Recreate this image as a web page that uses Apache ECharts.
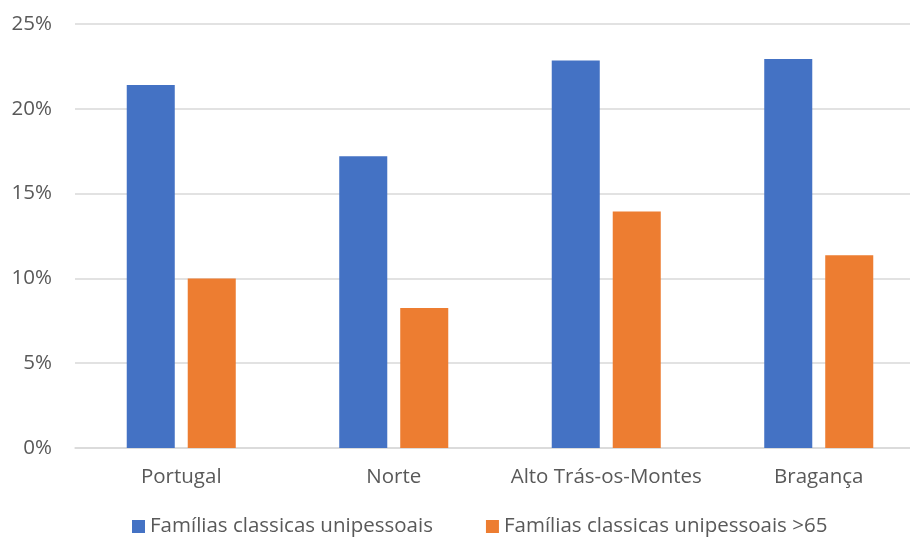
<!DOCTYPE html>
<html>
<head>
<meta charset="utf-8">
<script src="https://cdn.jsdelivr.net/npm/echarts@6/dist/echarts.min.js"></script>
<style>
  html, body { margin: 0; padding: 0; background: #fff; }
  #chart { width: 910px; height: 542px; }
</style>
</head>
<body>
<div id="chart"></div>
<script>
// categorias e valores (%)
var categories = ['Portugal', 'Norte', 'Alto Trás-os-Montes', 'Bragança'];
var unipessoais = [21.4, 17.2, 22.85, 22.93];
var unipessoais65 = [10.0, 8.25, 13.95, 11.36];
var seriesNames = ['Famílias classicas unipessoais', 'Famílias classicas unipessoais >65'];

var chart = echarts.init(document.getElementById('chart'));
var font = '"Open Sans", "Noto Sans", sans-serif';

chart.setOption({
  animation: false,
  textStyle: { fontFamily: font },
  // o gráfico original está cortado à direita
  grid: { left: 75, width: 850, top: 24, bottom: 94, containLabel: false, outerBoundsMode: 'none' },
  legend: {
    bottom: 0,
    left: 127,
    itemWidth: 13,
    itemHeight: 13,
    itemGap: 53,
    icon: 'rect',
    textStyle: { color: '#595959', fontSize: 20.5, fontFamily: font },
    data: seriesNames
  },
  xAxis: {
    type: 'category',
    data: categories,
    axisTick: { show: false },
    axisLine: { lineStyle: { color: '#d9d9d9', width: 1.5 } },
    axisLabel: { color: '#595959', fontSize: 20.5, margin: 19, interval: 0, fontFamily: font }
  },
  yAxis: {
    type: 'value',
    min: 0,
    max: 25,
    interval: 5,
    axisLine: { show: false },
    axisTick: { show: false },
    splitLine: { lineStyle: { color: '#d9d9d9', width: 1.5 } },
    axisLabel: {
      color: '#595959', fontSize: 20.5, margin: 23, fontFamily: font,
      formatter: function (v) { return v + '%'; }
    }
  },
  series: [
    {
      name: seriesNames[0],
      type: 'bar',
      barWidth: '22.6%',
      barGap: '27%',
      itemStyle: { color: '#4472C4' },
      data: unipessoais
    },
    {
      name: seriesNames[1],
      type: 'bar',
      barWidth: '22.6%',
      itemStyle: { color: '#ED7D31' },
      data: unipessoais65
    }
  ]
});
</script>
</body>
</html>
